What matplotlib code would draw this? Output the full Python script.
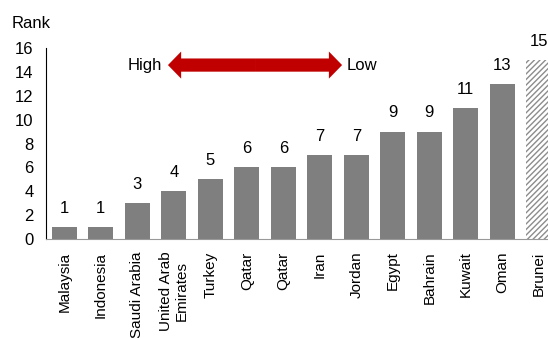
import matplotlib.pyplot as plt
from matplotlib.patches import FancyArrowPatch
import numpy as np

plt.rcParams['font.family'] = ['Liberation Sans', 'DejaVu Sans']

# data
countries = ['Malaysia', 'Indonesia', 'Saudi Arabia', 'United Arab\nEmirates', 'Turkey',
             'Qatar', 'Qatar', 'Iran', 'Jordan', 'Egypt', 'Bahrain', 'Kuwait', 'Oman', 'Brunei']
ranks = [1, 1, 3, 4, 5, 6, 6, 7, 7, 9, 9, 11, 13, 15]
yticks = [0, 2, 4, 6, 8, 10, 12, 14, 16]

fig = plt.figure(figsize=(5.48, 3.38), dpi=100)
ax = fig.add_axes([46/548, 99/338, 1 - 46/548, (239-48)/338])

x = np.arange(len(countries))
colors = ['#7f7f7f'] * (len(countries) - 1)
bars = ax.bar(x[:-1], ranks[:-1], width=0.68, color=colors, lw=0)
hb = ax.bar(x[-1:], ranks[-1:], width=0.68, color='white', edgecolor='#8c8c8c',
            hatch='//////', lw=0)

for xi, r in zip(x, ranks):
    ax.annotate(str(r), (xi, r), xytext=(0, 8), textcoords='offset points',
                ha='center', va='bottom', fontsize=12)

ax.set_xlim(-0.5, 13.25)
ax.set_ylim(0, 16)
ax.set_yticks(yticks)
ax.set_xticks(x)
ax.set_xticklabels(countries, rotation=90, fontsize=11)
ax.tick_params(axis='y', length=0, pad=9, labelsize=12)
ax.tick_params(axis='x', length=0, pad=9)

for s in ['top', 'right']:
    ax.spines[s].set_visible(False)
ax.spines['left'].set_color('black')
ax.spines['bottom'].set_color('#999999')

# arrow High <-> Low
ya = 14.57
xl, xr = 2.84, 7.61
xm = (xl + xr) / 2
for end in (xl, xr):
    arr = FancyArrowPatch((xm, ya), (end, ya),
                          arrowstyle='simple,head_length=9.5,head_width=19.5,tail_width=9.5',
                          mutation_scale=1, color='#c00000', lw=0, shrinkA=0, shrinkB=0)
    ax.add_patch(arr)
ax.text(xl - 0.15, ya, 'High', ha='right', va='center', fontsize=12)
ax.text(xr + 0.12, ya, 'Low', ha='left', va='center', fontsize=12)

fig.text(12/548, 1 - 23/338, 'Rank', ha='left', va='center', fontsize=12)

plt.savefig('out.png', dpi=100)
